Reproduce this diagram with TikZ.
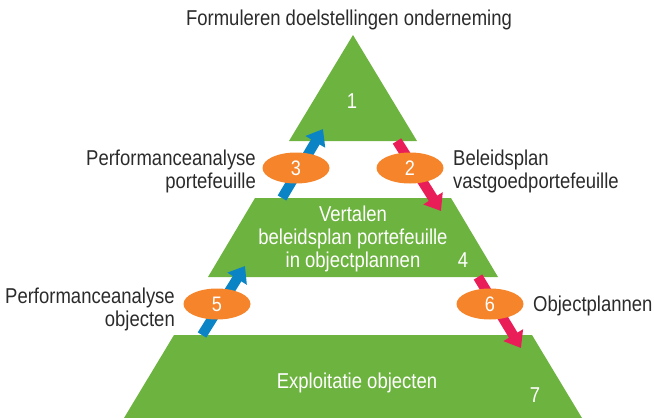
\documentclass[tikz,border=0pt]{standalone}
\usepackage{fontspec}
\setmainfont{Liberation Sans}[FakeStretch=0.86]
\usetikzlibrary{arrows.meta}
\definecolor{pgreen}{HTML}{6DB33F}
\definecolor{porange}{HTML}{F5842A}
\definecolor{pblue}{HTML}{0B84C6}
\definecolor{pred}{HTML}{E91E58}
\definecolor{ptext}{HTML}{2B2B2B}
\tikzset{
  level/.style={fill=pgreen},
  stepnum/.style={ellipse, fill=porange, minimum width=67pt, minimum height=31pt, inner sep=0pt, text=white, font=\fontsize{21}{23}\selectfont},
  upflow/.style={pblue, line width=10pt, -{Triangle[width=22pt,length=15pt]}},
  downflow/.style={pred, line width=10pt, -{Triangle[width=22pt,length=15pt]}},
  caption/.style={text=ptext, font=\fontsize{21.5}{23}\selectfont, inner sep=0pt},
  inlabel/.style={text=white, font=\fontsize{21.5}{23}\selectfont, inner sep=0pt, align=center},
}
\usetikzlibrary{shapes.geometric}
\begin{document}
\begin{tikzpicture}[x=1pt,y=-1pt]
\useasboundingbox (0,0) rectangle (654,418);
% pyramid levels
\fill[level] (353,35) -- (417,141) -- (289,141) -- cycle;
\fill[level] (255,198) -- (451,198) -- (498,277) -- (208,277) -- cycle;
\fill[level] (174,335) -- (532,335) -- (582,418) -- (124,418) -- cycle;
% arrow end points
\coordinate (a3s) at (282,198);
\coordinate (a3e) at (323,129);
\coordinate (a2s) at (397,141);
\coordinate (a2e) at (441,211);
\coordinate (a5s) at (202,335);
\coordinate (a5e) at (245,266);
\coordinate (a6s) at (478,277);
\coordinate (a6e) at (521,348);
\draw[upflow] (a3s) -- (a3e);
\draw[downflow] (a2s) -- (a2e);
\draw[upflow] (a5s) -- (a5e);
\draw[downflow] (a6s) -- (a6e);
% numbered steps
\node[stepnum] (s3) at (296,168) {3};
\node[stepnum] (s2) at (410,168) {2};
\node[stepnum] (s5) at (217,304) {5};
\node[stepnum] (s6) at (490,304) {6};
% texts inside the levels
\node[inlabel, anchor=base] (n1) at (352,108) {1};
\node[inlabel, anchor=base] (t4a) at (353,221) {Vertalen};
\node[inlabel, anchor=base] (t4b) at (353,244) {beleidsplan portefeuille};
\node[inlabel, anchor=base] (t4c) at (353,267) {in objectplannen};
\node[inlabel, anchor=base] (n4) at (463,267) {4};
\node[inlabel, anchor=base] (t7) at (357,388) {Exploitatie objecten};
\node[inlabel, anchor=base] (n7) at (535,402) {7};
% captions
\node[caption, anchor=base] (top) at (349,25) {Formuleren doelstellingen onderneming};
\node[caption, anchor=base east] (c3a) at (256,165) {Performanceanalyse};
\node[caption, anchor=base east] (c3b) at (256,188) {portefeuille};
\node[caption, anchor=base west] (c2a) at (453,165) {Beleidsplan};
\node[caption, anchor=base west] (c2b) at (453,188) {vastgoedportefeuille};
\node[caption, anchor=base east] (c5a) at (175,303) {Performanceanalyse};
\node[caption, anchor=base east] (c5b) at (175,326) {objecten};
\node[caption, anchor=base west] (c6) at (533,311) {Objectplannen};
\end{tikzpicture}
\end{document}
